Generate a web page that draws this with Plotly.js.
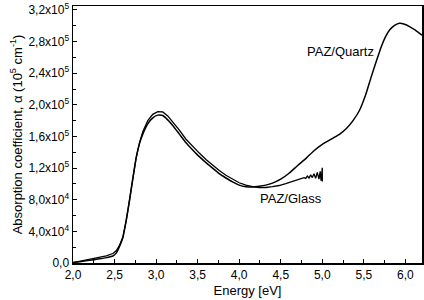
<!DOCTYPE html>
<html>
<head>
<meta charset="utf-8">
<script src="https://cdn.plot.ly/plotly-3.0.1.min.js"></script>
<style>html,body{margin:0;padding:0;background:#fff;}#chart{width:424px;height:300px;}</style>
</head>
<body>
<div id="chart"></div>
<script>
// Energy (eV) and absorption coefficient values
const energyQuartz = [2.0, 2.1, 2.2, 2.3, 2.4, 2.48, 2.52, 2.56, 2.60, 2.64, 2.68, 2.72, 2.76, 2.80, 2.84, 2.90, 2.96, 3.02, 3.08, 3.14, 3.20, 3.28, 3.36, 3.44, 3.52, 3.60, 3.68, 3.76, 3.84, 3.92, 4.00, 4.08, 4.16, 4.24, 4.32, 4.40, 4.50, 4.60, 4.70, 4.81, 4.90, 5.00, 5.13, 5.21, 5.29, 5.37, 5.45, 5.52, 5.59, 5.65, 5.71, 5.76, 5.81, 5.87, 5.93, 5.99, 6.05, 6.12, 6.20];
const alphaQuartz = [500, 2000, 3500, 5000, 6800, 8800, 12500, 21000, 32000, 54000, 79000, 107000, 133000, 151000, 163000, 176000, 183500, 187000, 186500, 181000, 174000, 163000, 152000, 143000, 134500, 127000, 120000, 113000, 107500, 102500, 98500, 96500, 96000, 97000, 98500, 101000, 106000, 113500, 123000, 133000, 142000, 150000, 158000, 163000, 170000, 180000, 193500, 212000, 235700, 255000, 273600, 286000, 294700, 300500, 303200, 302000, 299000, 294500, 288000];

const energyGlass = [2.0, 2.1, 2.2, 2.3, 2.4, 2.48, 2.52, 2.56, 2.60, 2.64, 2.68, 2.72, 2.76, 2.80, 2.84, 2.90, 2.96, 3.02, 3.08, 3.14, 3.20, 3.28, 3.36, 3.44, 3.52, 3.60, 3.68, 3.76, 3.84, 3.92, 4.00, 4.08, 4.16, 4.24, 4.32, 4.40, 4.48, 4.56, 4.64, 4.70, 4.74, 4.78, 4.80, 4.82, 4.84, 4.86, 4.88, 4.90, 4.92, 4.94, 4.96, 4.975, 4.985, 4.995, 5.0, 5.0];
const alphaGlass = [500, 2500, 4500, 6500, 9000, 12000, 15500, 22500, 33000, 53000, 78000, 106000, 133000, 152000, 166000, 180000, 188000, 191500, 191000, 186000, 178500, 168000, 156500, 147500, 139000, 131000, 123500, 117000, 111000, 106000, 101500, 98500, 96500, 95500, 95500, 96500, 98000, 100500, 103500, 105000, 106500, 108000, 107000, 110000, 107500, 111500, 108000, 113000, 107000, 114500, 106000, 116000, 104000, 112000, 120500, 103000];

const yTickVals = [0, 40000, 80000, 120000, 160000, 200000, 240000, 280000, 320000];
const yTickText = ['0,0', '4,0x10<sup>4</sup>', '8,0x10<sup>4</sup>', '1,2x10<sup>5</sup>', '1,6x10<sup>5</sup>', '2,0x10<sup>5</sup>', '2,4x10<sup>5</sup>', '2,8x10<sup>5</sup>', '3,2x10<sup>5</sup>'];
const xTickVals = [2.0, 2.5, 3.0, 3.5, 4.0, 4.5, 5.0, 5.5, 6.0];
const xTickText = ['2,0', '2,5', '3,0', '3,5', '4,0', '4,5', '5,0', '5,5', '6,0'];

const labelQuartz = 'PAZ/Quartz';
const labelGlass = 'PAZ/Glass';

const font = 'Liberation Sans, Arial, sans-serif';

const traces = [
  {x: energyQuartz, y: alphaQuartz, mode: 'lines', line: {color: '#000', width: 1.5, shape: 'spline', smoothing: 0.6}, name: labelQuartz},
  {x: energyGlass, y: alphaGlass, mode: 'lines', line: {color: '#000', width: 1.3}, name: labelGlass}
];

const layout = {
  width: 424, height: 300,
  margin: {l: 73, r: 2, t: 6, b: 37},
  paper_bgcolor: '#fff', plot_bgcolor: '#fff',
  showlegend: false,
  font: {family: font, size: 12, color: '#000'},
  xaxis: {
    range: [2.0, 6.2], showgrid: false, zeroline: false,
    showline: true, linecolor: '#000', linewidth: 1.5, mirror: true,
    ticks: 'inside', ticklen: 4, tickwidth: 1, tickcolor: '#000',
    tickmode: 'array', tickvals: xTickVals, ticktext: xTickText,
    minor: {dtick: 0.25, tick0: 2.0, ticks: 'inside', ticklen: 3, tickcolor: '#000', tickwidth: 1},
    tickfont: {family: font, size: 12},
    title: {text: 'Energy [eV]', font: {family: font, size: 13}, standoff: 5}
  },
  yaxis: {
    range: [0, 325000], showgrid: false, zeroline: false,
    showline: true, linecolor: '#000', linewidth: 1.5, mirror: true,
    ticks: 'inside', ticklen: 4, tickwidth: 1, tickcolor: '#000',
    tickmode: 'array', tickvals: yTickVals, ticktext: yTickText,
    minor: {dtick: 20000, tick0: 0, ticks: 'inside', ticklen: 3, tickcolor: '#000', tickwidth: 1},
    tickfont: {family: font, size: 12},
    title: {text: 'Absorption coefficient, α (10<sup>5</sup> cm<sup>-1</sup>)', font: {family: font, size: 13}, standoff: 3}
  },
  annotations: [
    {x: 5.22, y: 267000, xref: 'x', yref: 'y', text: labelQuartz, showarrow: false, font: {family: font, size: 13, color: '#000'}},
    {x: 4.62, y: 82000, xref: 'x', yref: 'y', text: labelGlass, showarrow: false, font: {family: font, size: 13, color: '#000'}}
  ]
};

Plotly.newPlot('chart', traces, layout, {staticPlot: true, displayModeBar: false});
</script>
</body>
</html>
